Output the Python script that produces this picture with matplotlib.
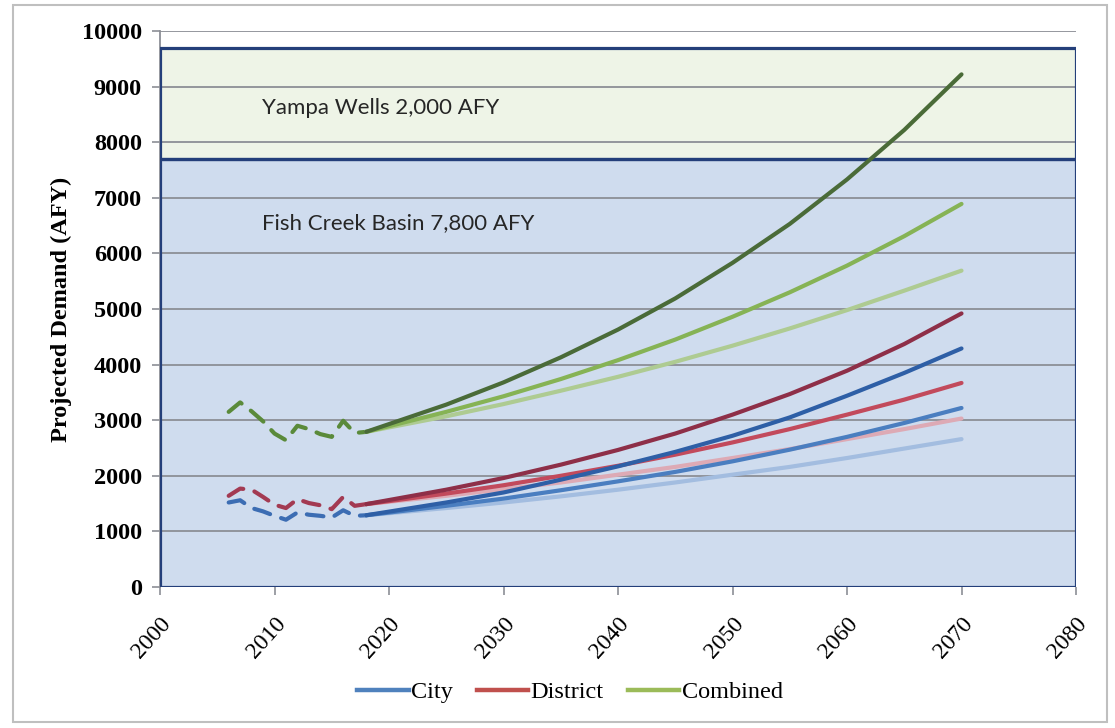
import matplotlib
matplotlib.use("Agg")
import matplotlib.pyplot as plt
from matplotlib.patches import Rectangle
from matplotlib.lines import Line2D

# ---------------- data ----------------
hist_years = [2006, 2007, 2008, 2009, 2010, 2011, 2012, 2013, 2014, 2015, 2016, 2017, 2018]
hist_city = [1520, 1560, 1420, 1360, 1280, 1210, 1340, 1300, 1280, 1250, 1380, 1280, 1290]
hist_district = [1640, 1770, 1750, 1620, 1480, 1420, 1580, 1510, 1470, 1400, 1620, 1460, 1490]
hist_combined = [3150, 3320, 3160, 2980, 2760, 2640, 2900, 2840, 2750, 2700, 2990, 2770, 2790]

proj_years = [2018, 2025, 2030, 2035, 2040, 2045, 2050, 2055, 2060, 2065, 2070]
city_high = [1290, 1520, 1700, 1930, 2170, 2430, 2720, 3050, 3440, 3850, 4290]
city_mid = [1290, 1460, 1590, 1740, 1900, 2070, 2260, 2470, 2700, 2950, 3220]
city_low = [1290, 1420, 1520, 1630, 1750, 1880, 2020, 2160, 2320, 2490, 2660]
district_high = [1490, 1750, 1960, 2200, 2465, 2760, 3100, 3470, 3890, 4370, 4920]
district_mid = [1490, 1680, 1830, 2000, 2180, 2380, 2600, 2840, 3100, 3370, 3670]
district_low = [1490, 1640, 1760, 1880, 2020, 2160, 2320, 2480, 2660, 2840, 3030]
combined_high = [2790, 3280, 3680, 4130, 4630, 5190, 5830, 6530, 7330, 8220, 9220]
combined_mid = [2790, 3150, 3430, 3740, 4080, 4450, 4860, 5300, 5780, 6310, 6890]
combined_low = [2790, 3070, 3290, 3530, 3780, 4050, 4340, 4650, 4980, 5330, 5690]

fish_creek_top = 7700
yampa_top = 9700
fish_label = "Fish Creek Basin 7,800 AFY"
yampa_label = "Yampa Wells 2,000 AFY"

x_ticks = [2000, 2010, 2020, 2030, 2040, 2050, 2060, 2070, 2080]
y_ticks = [0, 1000, 2000, 3000, 4000, 5000, 6000, 7000, 8000, 9000, 10000]
legend_labels = ["City", "District", "Combined"]

# ---------------- figure ----------------
fig = plt.figure(figsize=(11.15, 7.28), dpi=100)
ax = fig.add_axes([160 / 1115, 1 - 587 / 728, (1076 - 160) / 1115, (587 - 31) / 728])

# outer light frame
fig.patches.append(Rectangle((13 / 1115, 1 - 722 / 728), (1107 - 13) / 1115, (722 - 5) / 728,
                             transform=fig.transFigure, fill=False, edgecolor="#BFBFBF",
                             linewidth=1.5, zorder=0))

ax.set_xlim(2000, 2080)
ax.set_ylim(0, 10000)

# supply boxes
navy = "#243F7A"
ax.add_patch(Rectangle((2000, 0), 80, fish_creek_top, facecolor="#CFDCEE", edgecolor="none", zorder=0.5))
ax.add_patch(Rectangle((2000, fish_creek_top), 80, yampa_top - fish_creek_top, facecolor="#EEF4E7",
                       edgecolor="none", zorder=0.5))

# gridlines
for yv in y_ticks:
    ax.axhline(yv, color="#8C8F96", linewidth=1.3, zorder=1)

ax.add_patch(Rectangle((2000, 0), 80, fish_creek_top, fill=False, edgecolor=navy, linewidth=2.3, zorder=1.5))
ax.add_patch(Rectangle((2000, fish_creek_top), 80, yampa_top - fish_creek_top, fill=False, edgecolor=navy,
                       linewidth=2.3, zorder=1.5))

ax.text(2008.9, 8610, yampa_label, fontsize=16, family="Lato", color="#262626", va="center", ha="left", zorder=3)
ax.text(2008.9, 6550, fish_label, fontsize=16, family="Lato", color="#262626", va="center", ha="left", zorder=3)

lw = 3.0
dash = (4.0, 2.8)
# historical (dashed)
ax.plot(hist_years, hist_combined, color="#5A8A3A", lw=lw, dashes=dash, dash_capstyle="round", zorder=3)
ax.plot(hist_years, hist_district, color="#A33A52", lw=lw, dashes=dash, dash_capstyle="round", zorder=3)
ax.plot(hist_years, hist_city, color="#3C6DB3", lw=lw, dashes=dash, dash_capstyle="round", zorder=3)

# projections
proj = [
    (city_low, "#A3BDE0"),
    (district_low, "#DDAAB5"),
    (city_mid, "#4A7EC0"),
    (district_mid, "#C24A5C"),
    (city_high, "#2E5FA6"),
    (district_high, "#8E2F48"),
    (combined_low, "#AECB92"),
    (combined_mid, "#86B355"),
    (combined_high, "#4A6B38"),
]
for vals, c in proj:
    ax.plot(proj_years, vals, color=c, lw=lw, solid_capstyle="round", solid_joinstyle="round", zorder=3)

# axes styling
for s in ["top", "right", "bottom"]:
    ax.spines[s].set_visible(False)
ax.spines["left"].set_color("#8C8F96")
ax.spines["left"].set_linewidth(1.3)
ax.spines["left"].set_zorder(1)

ax.set_yticks(y_ticks)
ax.set_yticklabels([str(v) for v in y_ticks], fontsize=17.5, fontweight="bold", family="Liberation Serif")
ax.set_xticks(x_ticks)
ax.set_xticklabels([str(v) for v in x_ticks], fontsize=17, family="Liberation Serif",
                   rotation=48, ha="right", va="top", rotation_mode="anchor")
ax.tick_params(axis="y", length=6, width=1.2, color="#8C8F96", pad=7)
ax.tick_params(axis="x", length=6, width=1.2, color="#8C8F96", pad=13)

ax.set_ylabel("Projected Demand (AFY)", fontsize=17.5, fontweight="bold", family="Liberation Serif", labelpad=7)

handles = [Line2D([], [], color="#4F81BD", lw=3.2),
           Line2D([], [], color="#C0504D", lw=3.2),
           Line2D([], [], color="#9BBB59", lw=3.2)]
fig.legend(handles, legend_labels, loc="center", bbox_to_anchor=(570 / 1115, 1 - 692 / 728), ncol=3,
           frameon=False, prop={"family": "Liberation Serif", "size": 17.5}, handlelength=2.1,
           handletextpad=0.1, columnspacing=1.0)

fig.savefig("out.png", dpi=100)
